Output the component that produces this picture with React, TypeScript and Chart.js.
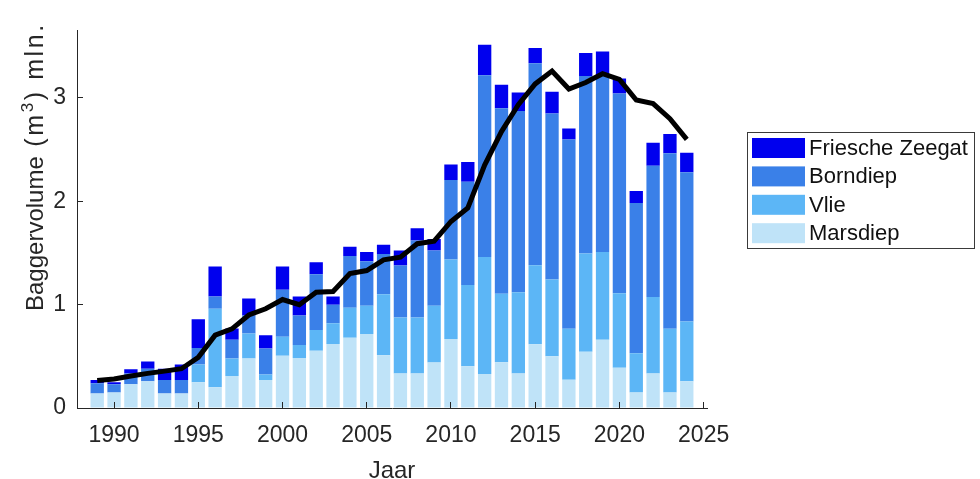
import React, { useEffect, useRef } from "react";
import { Chart, registerables } from "chart.js";

Chart.register(...registerables);

const years = [
  1989, 1990, 1991, 1992, 1993, 1994, 1995, 1996, 1997, 1998, 1999, 2000,
  2001, 2002, 2003, 2004, 2005, 2006, 2007, 2008, 2009, 2010, 2011, 2012,
  2013, 2014, 2015, 2016, 2017, 2018, 2019, 2020, 2021, 2022, 2023, 2024,
];

const marsdiep = [
  0.14, 0.15, 0.23, 0.26, 0.14, 0.14, 0.25, 0.2, 0.31, 0.48, 0.27, 0.505,
  0.485, 0.555, 0.62, 0.68, 0.715, 0.51, 0.335, 0.335, 0.44, 0.667, 0.405, 0.33,
  0.443, 0.335, 0.618, 0.5, 0.274, 0.545, 0.66, 0.39, 0.15, 0.335, 0.15, 0.258,
];

const vlie = [
  0, 0, 0, 0, 0, 0, 0.17, 0.76, 0.17, 0.24, 0.055, 0.185,
  0.125, 0.2, 0.2, 0.29, 0.275, 0.59, 0.54, 0.54, 0.55, 0.77, 0.785, 1.13,
  0.662, 0.785, 0.764, 0.744, 0.492, 0.95, 0.85, 0.72, 0.38, 0.74, 0.616, 0.58,
];

const borndiep = [
  0.1, 0.08, 0.105, 0.12, 0.13, 0.13, 0.16, 0.12, 0.18, 0.175, 0.25, 0.455,
  0.285, 0.54, 0.18, 0.5, 0.43, 0.39, 0.505, 0.745, 0.535, 0.77, 1.0, 1.76,
  1.795, 1.755, 1.954, 1.606, 1.831, 1.717, 1.703, 1.934, 1.453, 1.27, 1.7, 1.443,
];

const friescheZeegat = [
  0.03, 0.02, 0.04, 0.07, 0.11, 0.15, 0.28, 0.29, 0.11, 0.165, 0.13, 0.225,
  0.185, 0.115, 0.08, 0.09, 0.09, 0.09, 0.145, 0.12, 0.11, 0.15, 0.19, 0.295,
  0.227, 0.178, 0.148, 0.21, 0.108, 0.222, 0.237, 0.145, 0.117, 0.222, 0.185, 0.19,
];

const gemiddelde = [
  0.265, 0.28, 0.31, 0.335, 0.357, 0.38, 0.49, 0.705, 0.766, 0.9, 0.96, 1.05,
  1.0, 1.12, 1.127, 1.3, 1.33, 1.434, 1.459, 1.59, 1.615, 1.805, 1.936, 2.35,
  2.675, 2.936, 3.136, 3.26, 3.087, 3.15, 3.235, 3.18, 2.98, 2.945, 2.8, 2.6,
];

const xTicks = [1990, 1995, 2000, 2005, 2010, 2015, 2020, 2025];
const yTicks = [0, 1, 2, 3];

const seriesLabels = ["Marsdiep", "Vlie", "Borndiep", "Friesche Zeegat"];
const seriesColors = ["#BFE3F8", "#5CB6F6", "#3A80E8", "#0000EE"];

const FONT = '"Liberation Sans", Arial, Helvetica, sans-serif';
const AXIS = "#262626";

const overlayPlugin = {
  id: "overlay",
  afterDraw(chart: any) {
    const ctx = chart.ctx as CanvasRenderingContext2D;
    // Y axis title with superscript, drawn rotated
    ctx.save();
    ctx.fillStyle = AXIS;
    ctx.textBaseline = "alphabetic";
    ctx.textAlign = "left";
    ctx.translate(43, 311);
    ctx.rotate(-Math.PI / 2);
    ctx.font = `24px ${FONT}`;
    ctx.fillText("Baggervolume", 0, 0);
    let pos = ctx.measureText("Baggervolume").width;
    const spacing = 2.6;
    const drawSpaced = (txt: string, size: number, rise: number) => {
      ctx.font = `${size}px ${FONT}`;
      for (const ch of txt) {
        ctx.fillText(ch, pos, rise);
        pos += ctx.measureText(ch).width + spacing;
      }
    };
    drawSpaced(" (m", 25, 0);
    drawSpaced("3", 17, -10);
    drawSpaced(") mln.", 25, 0);
    ctx.restore();

    // Legend
    const bars = chart.data.datasets
      .filter((d: any) => d.type !== "line")
      .slice()
      .reverse();
    ctx.save();
    ctx.fillStyle = "#ffffff";
    ctx.fillRect(747, 132, 228, 117);
    ctx.strokeStyle = "#3a3a3a";
    ctx.lineWidth = 1;
    ctx.strokeRect(747.5, 132.5, 227, 116);
    ctx.font = `22px ${FONT}`;
    ctx.textBaseline = "middle";
    ctx.textAlign = "left";
    bars.forEach((d: any, i: number) => {
      const yc = 148 + i * 28.4;
      ctx.fillStyle = d.backgroundColor;
      ctx.fillRect(752, yc - 10, 53, 20);
      ctx.fillStyle = "#111111";
      ctx.fillText(d.label, 809, yc + 1);
    });
    ctx.restore();
  },
};

export default function App() {
  const ref = useRef<HTMLCanvasElement>(null);

  useEffect(() => {
    const pts = (arr: number[]) => years.map((x, i) => ({ x, y: arr[i] }));
    const series = [marsdiep, vlie, borndiep, friescheZeegat];
    const barSets = series.map((arr, i) => ({
      type: "bar" as const,
      label: seriesLabels[i],
      data: pts(arr),
      backgroundColor: seriesColors[i],
      borderWidth: 0,
      categoryPercentage: 0.8,
      barPercentage: 0.99,
      order: 1,
    }));

    const chart = new Chart(ref.current as HTMLCanvasElement, {
      type: "bar",
      data: {
        datasets: [
          {
            type: "line",
            label: "gemiddelde",
            data: pts(gemiddelde),
            borderColor: "#000000",
            borderWidth: 5,
            pointRadius: 0,
            pointHoverRadius: 0,
            fill: false,
            tension: 0,
            stack: "line",
            order: 0,
          } as any,
          ...barSets,
        ],
      },
      options: {
        animation: false,
        responsive: true,
        maintainAspectRatio: false,
        layout: { padding: { left: 0, top: 13, right: 273, bottom: 0 } },
        plugins: {
          legend: { display: false },
          tooltip: { enabled: false },
        },
        scales: {
          x: {
            type: "linear",
            min: 1987.8,
            max: 2025.2,
            stacked: true,
            offset: false,
            afterBuildTicks: (s: any) => {
              s.ticks = xTicks.map((v) => ({ value: v }));
            },
            afterFit: (s: any) => {
              s.height = 71;
            },
            grid: {
              offset: false,
              drawOnChartArea: false,
              drawTicks: true,
              tickLength: -6,
              color: AXIS,
              lineWidth: 1,
              z: 1,
            },
            border: { display: true, color: AXIS, width: 1, z: 1 },
            ticks: {
              autoSkip: false,
              maxRotation: 0,
              padding: 20,
              color: AXIS,
              font: { family: FONT, size: 23 },
              callback: (v: any) => String(v),
            },
            title: {
              display: true,
              text: "Jaar",
              color: AXIS,
              font: { family: FONT, size: 24, lineHeight: 1 },
              padding: { top: 0, bottom: -4.5 },
            },
          },
          y: {
            type: "linear",
            min: 0,
            max: 3.65,
            stacked: true,
            afterBuildTicks: (s: any) => {
              s.ticks = yTicks.map((v) => ({ value: v }));
            },
            afterFit: (s: any) => {
              s.width = 77;
            },
            grid: {
              drawOnChartArea: false,
              drawTicks: true,
              tickLength: -6,
              color: AXIS,
              lineWidth: 1,
              z: 1,
            },
            border: { display: true, color: AXIS, width: 1, z: 1 },
            ticks: {
              padding: 17,
              color: AXIS,
              font: { family: FONT, size: 23 },
              callback: (v: any) => String(v),
            },
          },
        },
      },
      plugins: [overlayPlugin],
    });

    return () => chart.destroy();
  }, []);

  return (
    <div
      style={{
        position: "absolute",
        left: 0,
        top: 0,
        width: 980,
        height: 479,
        background: "#ffffff",
      }}
    >
      <canvas ref={ref} />
    </div>
  );
}
